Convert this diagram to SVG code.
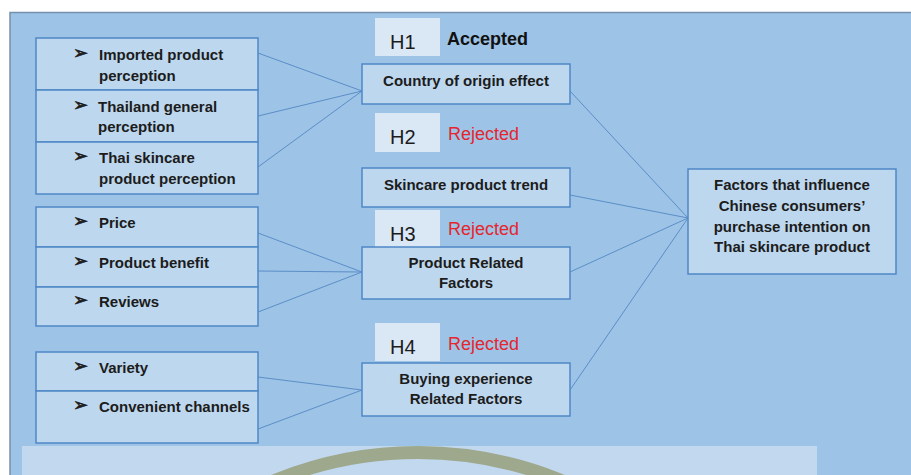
<svg xmlns="http://www.w3.org/2000/svg" width="911" height="475" viewBox="0 0 911 475">
  <style>
    .panel { fill: #9dc3e6; stroke: #7590ab; stroke-width: 1.5; }
    .box { fill: #bdd7ee; stroke: #4f88c6; stroke-width: 1.5; }
    .hbox { fill: #dae7f4; stroke: none; }
    .lbl { font-family: "Liberation Sans", Arial, sans-serif; font-size: 15px; font-weight: bold; fill: #1c1c1c; }
    .mid { text-anchor: middle; }
    .bul { font-family: "DejaVu Sans", sans-serif; font-size: 18px; font-weight: bold; fill: #1c1c1c; stroke: #1c1c1c; stroke-width: 0.6; }
    .hyp { font-family: "Liberation Sans", Arial, sans-serif; font-size: 20px; fill: #1c1c1c; }
    .acc { font-family: "Liberation Sans", Arial, sans-serif; font-size: 18px; font-weight: bold; fill: #111; }
    .rej { font-family: "Liberation Sans", Arial, sans-serif; font-size: 18px; fill: #e5262e; }
    .link { stroke: #5b8ec8; stroke-width: 1; fill: none; }
  </style>

  <!-- page and background panels -->
  <rect x="0" y="0" width="911" height="475" fill="#ffffff"/>
  <rect class="panel" x="10" y="12.5" width="910" height="470"/>
  <rect x="22" y="446" width="795" height="40" fill="#c1d8ee"/>
  <circle cx="418" cy="833" r="380.5" fill="none" stroke="#9ea88c" stroke-width="13"/>

  <!-- connectors -->
  <g id="connectors">
    <line class="link" x1="258" y1="53" x2="362" y2="91"/>
    <line class="link" x1="258" y1="116" x2="362" y2="91"/>
    <line class="link" x1="258" y1="167" x2="362" y2="91"/>
    <line class="link" x1="258" y1="233" x2="362" y2="272"/>
    <line class="link" x1="258" y1="271" x2="362" y2="272"/>
    <line class="link" x1="258" y1="312" x2="362" y2="272"/>
    <line class="link" x1="258" y1="377" x2="362" y2="390"/>
    <line class="link" x1="258" y1="429" x2="362" y2="390"/>
    <line class="link" x1="570" y1="91" x2="688" y2="218"/>
    <line class="link" x1="570" y1="195" x2="688" y2="218"/>
    <line class="link" x1="570" y1="272" x2="688" y2="218"/>
    <line class="link" x1="570" y1="390" x2="688" y2="218"/>
  </g>

  <!-- country-of-origin items -->
  <g id="item-imported">
    <rect class="box" x="36" y="38" width="222" height="52"/>
    <text class="bul" x="73" y="59">➢</text>
    <text class="lbl" x="99" y="60">Imported product</text>
    <text class="lbl" x="99" y="81">perception</text>
  </g>
  <g id="item-thailand">
    <rect class="box" x="36" y="90" width="222" height="52"/>
    <text class="bul" x="73" y="111">➢</text>
    <text class="lbl" x="98" y="112">Thailand general</text>
    <text class="lbl" x="98" y="132">perception</text>
  </g>
  <g id="item-thai-skincare">
    <rect class="box" x="36" y="142" width="222" height="52"/>
    <text class="bul" x="73" y="162">➢</text>
    <text class="lbl" x="99" y="163">Thai skincare</text>
    <text class="lbl" x="99" y="184">product perception</text>
  </g>

  <!-- product items -->
  <g id="item-price">
    <rect class="box" x="36" y="207" width="222" height="40"/>
    <text class="bul" x="73" y="227">➢</text>
    <text class="lbl" x="99" y="228">Price</text>
  </g>
  <g id="item-benefit">
    <rect class="box" x="36" y="247" width="222" height="40"/>
    <text class="bul" x="73" y="267">➢</text>
    <text class="lbl" x="99" y="268">Product benefit</text>
  </g>
  <g id="item-reviews">
    <rect class="box" x="36" y="287" width="222" height="39"/>
    <text class="bul" x="73" y="306">➢</text>
    <text class="lbl" x="99" y="307">Reviews</text>
  </g>

  <!-- buying experience items -->
  <g id="item-variety">
    <rect class="box" x="36" y="352" width="222" height="39"/>
    <text class="bul" x="73" y="372">➢</text>
    <text class="lbl" x="99" y="373">Variety</text>
  </g>
  <g id="item-channels">
    <rect class="box" x="36" y="391" width="222" height="52"/>
    <text class="bul" x="73" y="411">➢</text>
    <text class="lbl" x="99" y="412">Convenient channels</text>
  </g>

  <!-- hypotheses -->
  <g id="h1">
    <rect class="hbox" x="375" y="18" width="65" height="38"/>
    <text class="hyp" x="390" y="49">H1</text>
    <text class="acc" x="447" y="45">Accepted</text>
  </g>
  <g id="h2">
    <rect class="hbox" x="375" y="113" width="65" height="39"/>
    <text class="hyp" x="390" y="144">H2</text>
    <text class="rej" x="448" y="140">Rejected</text>
  </g>
  <g id="h3">
    <rect class="hbox" x="375" y="210" width="65" height="38"/>
    <text class="hyp" x="390" y="241">H3</text>
    <text class="rej" x="448" y="235">Rejected</text>
  </g>
  <g id="h4">
    <rect class="hbox" x="375" y="323" width="65" height="38"/>
    <text class="hyp" x="390" y="354">H4</text>
    <text class="rej" x="448" y="350">Rejected</text>
  </g>

  <!-- factor groups -->
  <g id="country-of-origin">
    <rect class="box" x="362" y="64" width="208" height="40"/>
    <text class="lbl mid" x="466" y="86">Country of origin effect</text>
  </g>
  <g id="skincare-trend">
    <rect class="box" x="362" y="168" width="208" height="39"/>
    <text class="lbl mid" x="466" y="190">Skincare product trend</text>
  </g>
  <g id="product-factors">
    <rect class="box" x="362" y="247" width="208" height="52"/>
    <text class="lbl mid" x="466" y="268">Product Related</text>
    <text class="lbl mid" x="466" y="288">Factors</text>
  </g>
  <g id="buying-factors">
    <rect class="box" x="362" y="363" width="208" height="53"/>
    <text class="lbl mid" x="466" y="384">Buying experience</text>
    <text class="lbl mid" x="466" y="404">Related Factors</text>
  </g>

  <!-- outcome -->
  <g id="purchase-intention">
    <rect class="box" x="688" y="169" width="208" height="105"/>
    <text class="lbl mid" x="792" y="190">Factors that influence</text>
    <text class="lbl mid" x="792" y="211">Chinese consumers’</text>
    <text class="lbl mid" x="792" y="232">purchase intention on</text>
    <text class="lbl mid" x="792" y="252">Thai skincare product</text>
  </g>
</svg>
